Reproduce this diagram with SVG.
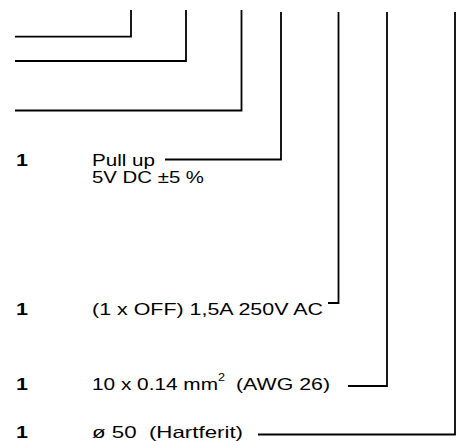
<svg xmlns="http://www.w3.org/2000/svg" width="461" height="441" viewBox="0 0 461 441">
<style>
.c{fill:none;stroke:#000;stroke-width:1.8;stroke-linejoin:miter}
.t{font-family:"Liberation Sans",Arial,sans-serif;font-size:16.5px;fill:#000}
.n{font-family:"Liberation Sans",Arial,sans-serif;font-size:17px;font-weight:bold;fill:#000}
.s{font-family:"Liberation Sans",Arial,sans-serif;font-size:11px;fill:#000}
</style>
<rect width="461" height="441" fill="#fff"/>
<g id="connectors">
<polyline class="c" points="15,36.7 131,36.7 131,10"/>
<polyline class="c" points="15,61 186,61 186,10"/>
<polyline class="c" points="15,110.5 241.5,110.5 241.5,10"/>
<polyline class="c" points="165,159.5 281,159.5 281,12"/>
<polyline class="c" points="328,303 338.5,303 338.5,12"/>
<polyline class="c" points="348,386 387,386 387,12"/>
<polyline class="c" points="258,434.5 455,434.5 455,12"/>
</g>
<g id="node-pullup">
<text class="n" x="16" y="166" textLength="12" lengthAdjust="spacingAndGlyphs">1</text>
<text class="t" x="92" y="165.5" textLength="63" lengthAdjust="spacingAndGlyphs">Pull up</text>
<text class="t" x="92" y="183" textLength="112" lengthAdjust="spacingAndGlyphs">5V DC ±5 %</text>
</g>
<g id="node-switch">
<text class="n" x="16" y="315" textLength="12" lengthAdjust="spacingAndGlyphs">1</text>
<text class="t" x="92" y="315" textLength="231" lengthAdjust="spacingAndGlyphs">(1 x OFF) 1,5A 250V AC</text>
</g>
<g id="node-cable">
<text class="n" x="16" y="390" textLength="12" lengthAdjust="spacingAndGlyphs">1</text>
<text class="t" x="92" y="390" textLength="126" lengthAdjust="spacingAndGlyphs">10 x 0.14 mm</text>
<text class="s" x="218" y="381" textLength="7" lengthAdjust="spacingAndGlyphs">2</text>
<text class="t" x="236" y="390" textLength="94" lengthAdjust="spacingAndGlyphs">(AWG 26)</text>
</g>
<g id="node-magnet">
<text class="n" x="16" y="437.5" textLength="12" lengthAdjust="spacingAndGlyphs">1</text>
<text class="t" x="92" y="437.5" textLength="151" lengthAdjust="spacingAndGlyphs" xml:space="preserve">ø 50  (Hartferit)</text>
</g>
</svg>
